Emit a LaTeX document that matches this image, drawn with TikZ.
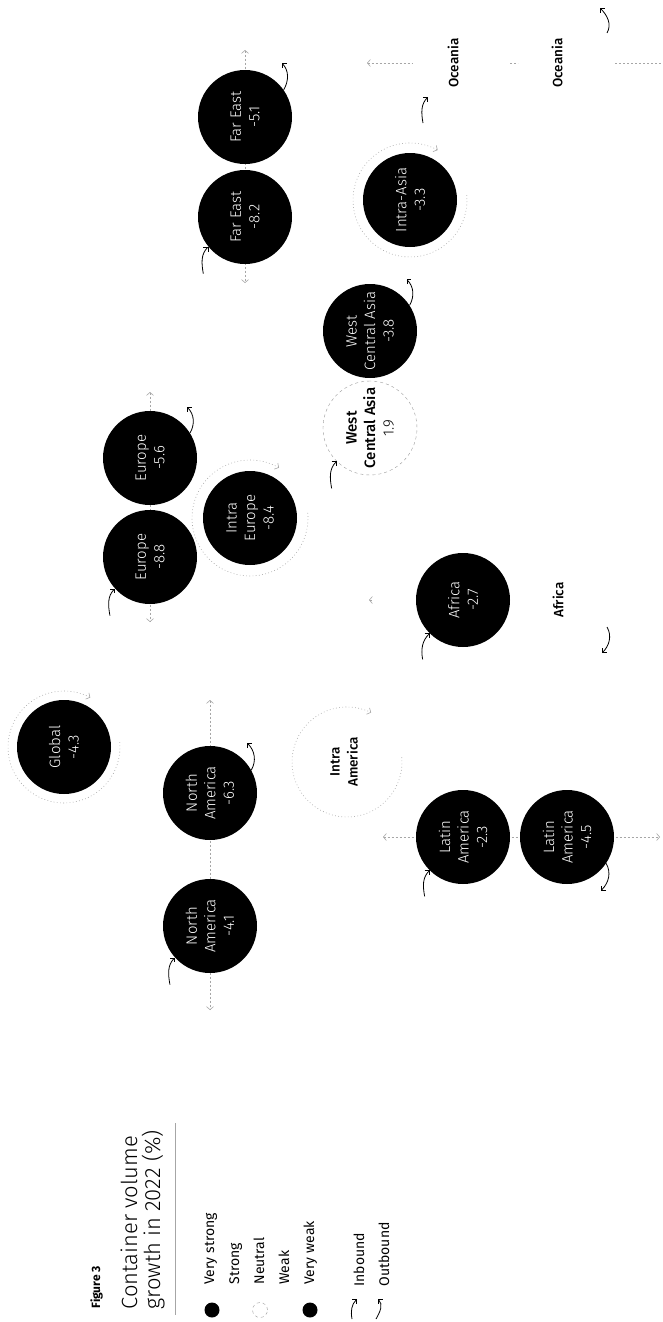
\documentclass[tikz,border=0pt]{standalone}
\usepackage{fontspec}
\setmainfont{Fira Sans}
\newfontfamily\thinfont{Fira Sans Light}
\newfontfamily\midfont{Fira Sans Medium}
\usetikzlibrary{arrows.meta}

\begin{document}
\begin{tikzpicture}[x=1pt, y=1pt, >={Straight Barb[length=3pt,width=7pt]},
  region/.style={circle, fill=black, minimum size=94pt, inner sep=0pt, rotate=90, text=white, align=center, font=\thinfont\fontsize{15}{18.5}\selectfont},
  neutral/.style={region, fill=white, draw=gray!80, dashed, thin, text=black},
  place/.style={rotate=90, align=center, font=\midfont\fontsize{13.5}{18}\selectfont},
  ring/.style={->, gray!70, line width=0.6pt, dash pattern=on 0.8pt off 2.4pt},
  axis/.style={gray!70, line width=0.6pt, dash pattern=on 2pt off 2pt},
  inb/.style={-{Straight Barb[angle=90:4.5pt]}, line width=0.8pt},
  key/.style={rotate=90, anchor=base west, font=\fontsize{14}{16}\selectfont},
  title/.style={rotate=90, anchor=base west, font=\thinfont\fontsize{22}{24}\selectfont},
  bullet/.style={circle, fill=black, minimum size=15pt, inner sep=0pt}]

  \useasboundingbox (0,0) rectangle (662,-1322);

  % dotted axes behind the circles
  \coordinate (naT) at (210,-700);
  \coordinate (naB) at (210,-1010);
  \coordinate (euT) at (150,-392);
  \coordinate (euB) at (150,-622);
  \coordinate (feT) at (245,-50);
  \coordinate (feB) at (245,-283);
  \coordinate (laW) at (383,-837);
  \coordinate (laE) at (660,-837);
  \coordinate (ocW) at (367,-63);
  \coordinate (ocA) at (413,-63);
  \coordinate (ocB) at (510,-63);
  \coordinate (ocC) at (518,-63);
  \coordinate (ocD) at (615,-63);
  \coordinate (ocE) at (662,-63);
  \coordinate (afW) at (369,-600);
  \coordinate (afV) at (372,-600);

  \draw[axis, <->] (naT) -- (naB);
  \draw[axis, <->] (euT) -- (euB);
  \draw[axis, <->] (feT) -- (feB);
  \draw[axis, <->] (laW) -- (laE);
  \draw[axis, <-] (ocW) -- (ocA);
  \draw[axis] (ocB) -- (ocC);
  \draw[axis] (ocD) -- (ocE);
  \draw[axis, <-] (afW) -- (afV);

  % regions
  \node[region] (glob) at (64,-747) {Global\\-4.3};
  \node[region] (na1) at (210,-926) {North\\America\\-4.1};
  \node[region] (na2) at (210,-793) {North\\America\\-6.3};
  \node[region] (eu1) at (150,-557) {Europe\\-8.8};
  \node[region] (eu2) at (150,-458) {Europe\\-5.6};
  \node[region] (ieu) at (250,-518) {Intra\\Europe\\-8.4};
  \node[region] (fe1) at (245,-217) {Far East\\-8.2};
  \node[region] (fe2) at (245,-117) {Far East\\-5.1};
  \node[region] (ias) at (410,-200) {Intra-Asia\\-3.3};
  \node[neutral] (wca1) at (370,-428) {{\midfont West}\\{\midfont Central Asia}\\1.9};
  \node[region] (wca2) at (370,-331) {West\\Central Asia\\-3.8};
  \node[region] (afr) at (463,-600) {Africa\\-2.7};
  \node[region] (la1) at (463,-837) {Latin\\America\\-2.3};
  \node[region] (la2) at (567,-837) {Latin\\America\\-4.5};
  \node[place] (iam) at (344,-762) {Intra\\America};
  \node[place] (afrl) at (558,-600) {Africa};
  \node[place] (oc1) at (453,-63) {Oceania};
  \node[place] (oc2) at (557,-63) {Oceania};

  % intra-regional rings
  \draw[ring] (glob) ++(5:56) arc[start angle=5, end angle=-298, radius=56];
  \draw[ring] (ieu) ++(5:58) arc[start angle=5, end angle=-300, radius=58];
  \draw[ring] (ias) ++(5:57) arc[start angle=5, end angle=-299, radius=57];
  \draw[ring] (iam) ++(3,0) ++(5:55) arc[start angle=5, end angle=-296, radius=55];

  % inbound (anchors are in the rotated node frame)
  \draw[inb] ([shift={(-5,-27)}]fe1.129) to[out=100, in=225] (fe1.129);
  \draw[inb] ([shift={(-5,-27)}]na1.132) to[out=100, in=225] (na1.132);
  \draw[inb] ([shift={(-5,-27)}]eu1.132) to[out=100, in=225] (eu1.132);
  \draw[inb] ([shift={(-5,-27)}]wca1.135) to[out=100, in=225] (wca1.135);
  \draw[inb] ([shift={(-7,-26)}]afr.135) to[out=100, in=225] (afr.135);
  \draw[inb] ([shift={(-5,-26)}]la1.135) to[out=100, in=225] (la1.135);
  \draw[inb] ([shift={(-30,-60)}]oc1.center) to[out=100, in=225] ([shift={(-25,-34)}]oc1.center);

  % outbound
  \draw[inb] (fe2.-55) to[out=60, in=-45] ([shift={(-2,27)}]fe2.-55);
  \draw[inb] (na2.-61) to[out=60, in=-45] ([shift={(-4,27)}]na2.-61);
  \draw[inb] (eu2.-58) to[out=60, in=-45] ([shift={(-3,26)}]eu2.-58);
  \draw[inb] (wca2.-57) to[out=60, in=-45] ([shift={(-3,26)}]wca2.-57);
  \draw[inb] ([shift={(50,30)}]oc2.center) to[out=60, in=-45] ([shift={(43,55)}]oc2.center);
  \draw[inb] (la2.-124) to[out=-60, in=45] ([shift={(-5,-27)}]la2.-124);
  \draw[inb] ([shift={(49,-27)}]afrl.center) to[out=-60, in=45] ([shift={(44,-53)}]afrl.center);

  % legend
  \node[rotate=90, anchor=base west, font=\bfseries\fontsize{12}{14}\selectfont] (fig) at (100,-1312) {Figure 3};
  \node[title] (tl1) at (137,-1313) {Container volume};
  \node[title] (tl2) at (160,-1313) {growth in 2022 (\%)};
  \coordinate (ruleT) at (175,-1123);
  \coordinate (ruleB) at (175,-1315);
  \draw[gray!70, line width=0.7pt] (ruleT) -- (ruleB);

  \node[bullet] (bvs) at (212,-1310) {};
  \node[bullet, fill=white, draw=gray!80, dashed, thin] (bne) at (260,-1310) {};
  \node[bullet] (bvw) at (310,-1310) {};
  \node[key] (kvs) at (214,-1288) {Very strong};
  \node[key] (kst) at (239,-1288) {Strong};
  \node[key] (kne) at (264,-1288) {Neutral};
  \node[key] (kwk) at (289,-1288) {Weak};
  \node[key] (kvw) at (314,-1288) {Very weak};
  \node[key] (kin) at (364,-1290) {Inbound};
  \node[key] (kou) at (389,-1290) {Outbound};

  \coordinate (iin1) at (352,-1319);
  \coordinate (iin2) at (357,-1299);
  \coordinate (iou1) at (376,-1319);
  \coordinate (iou2) at (378,-1299);
  \draw[inb] (iin1) to[out=100, in=225] (iin2);
  \draw[inb] (iou1) to[out=60, in=-45] (iou2);

\end{tikzpicture}
\end{document}
